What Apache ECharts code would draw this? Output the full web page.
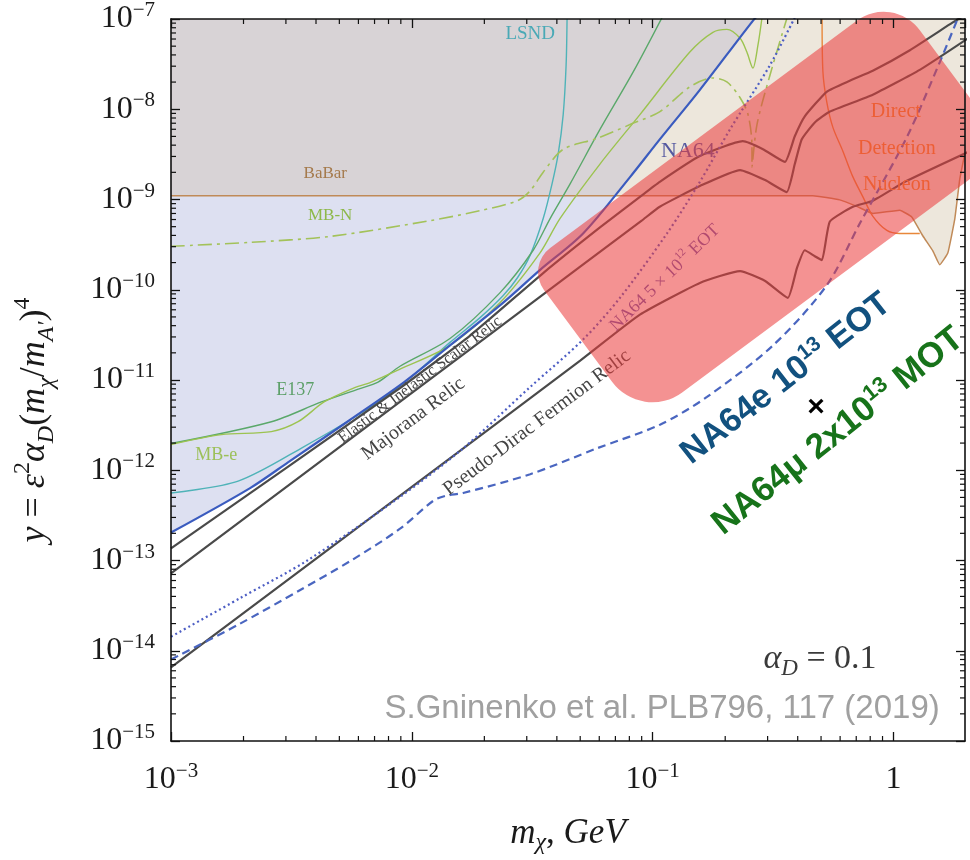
<!DOCTYPE html>
<html>
<head>
<meta charset="utf-8">
<script src="https://cdn.jsdelivr.net/npm/echarts@6/dist/echarts.min.js"></script>
<style>
html,body{margin:0;padding:0;background:#ffffff;}
#chart{width:970px;height:860px;}
</style>
</head>
<body>
<div id="chart"></div>
<script>
// ---------------- data (m_chi in GeV, y dimensionless) ----------------
const X_MIN = 1e-3, X_MAX = 1.98, Y_MIN = 1e-15, Y_MAX = 1e-7;
const X_DECADES = [-3, -2, -1, 0];
const Y_DECADES = [-15, -14, -13, -12, -11, -10, -9, -8];
const MINOR_MANTISSAS = [2, 3, 4, 5, 6, 7, 8, 9];

const NA64_LIMIT = [[1e-3,2.04e-13],[2.13e-3,6.34e-13],[3.07e-3,1.23e-12],[5.55e-3,3.63e-12],[9.29e-3,9.48e-12],
  [1.44e-2,2.42e-11],[2.39e-2,7.16e-11],[3.40e-2,1.65e-10],[5.14e-2,4.20e-10],[8.05e-2,1.77e-9],
  [0.107,4.63e-9],[0.157,1.64e-8],[0.261,9.6e-8],[0.279,1.15e-7]];

const BABAR_LIMIT = [[1e-3,1.1e-9],[0.462,1.1e-9],[0.598,9.9e-10],[0.704,8.4e-10],[0.821,7.0e-10],[1.062,7.6e-10],
  [1.19,6.4e-10],[1.324,3.94e-10],[1.456,2.7e-10],[1.556,1.89e-10],[1.68,2.55e-10],[1.796,6.1e-10],
  [1.884,1.69e-9],[1.976,3.2e-9]];

const DIRECT_DETECTION = [[0.505,1.0e-7],[0.509,2.6e-8],[0.528,1.21e-8],[0.560,6.3e-9],[0.616,3.43e-9],
  [0.678,1.78e-9],[0.746,1.07e-9],[0.821,6.5e-10],[0.938,4.54e-10],[1.062,4.2e-10],[1.285,4.2e-10]];

const LSND = [[1e-3,5.6e-13],[1.90e-3,7.57e-13],[3.57e-3,1.83e-12],[6.78e-3,5.05e-12],[9.93e-3,1.08e-11],
  [1.44e-2,2.61e-11],[1.92e-2,4.91e-11],[2.39e-2,8.57e-11],[2.74e-2,1.35e-10],[3.10e-2,2.42e-10],
  [3.51e-2,6.15e-10],[3.82e-2,1.49e-9],[4.05e-2,3.18e-9],[4.25e-2,8.73e-9],[4.37e-2,3.09e-8],[4.41e-2,1.0e-7]];

const E137 = [[1e-3,1.98e-12],[2.61e-3,3.45e-12],[4.21e-3,5.71e-12],[5.99e-3,7.94e-12],[7.24e-3,9.48e-12],
  [8.93e-3,1.42e-11],[1.44e-2,2.88e-11],[2.32e-2,9.23e-11],[3.19e-2,2.74e-10],[3.75e-2,6.14e-10],
  [4.54e-2,1.49e-9],[6.04e-2,5.97e-9],[8.30e-2,2.59e-8],[0.1104,1.09e-7]];

const MB_E = [[1e-3,1.93e-12],[1.62e-3,2.48e-12],[2.61e-3,2.68e-12],[3.37e-3,3.45e-12],[4.32e-3,5.71e-12],
  [5.60e-3,7.94e-12],[6.78e-3,9.48e-12],[8.93e-3,1.32e-11],[1.44e-2,2.42e-11],[2.32e-2,7.16e-11],
  [3.40e-2,2.54e-10],[4.12e-2,6.14e-10],[6.04e-2,2.47e-9],[8.85e-2,8.73e-9],[0.1426,4.30e-8],
  [0.1778,7.11e-8],[0.2032,7.67e-8],[0.2306,6.11e-8],[0.2460,4.30e-8],[0.2606,2.86e-8],[0.2735,5.13e-8],[0.2838,1.0e-7]];

const MB_N = [[1e-3,3.03e-10],[2.13e-3,3.35e-10],[4.58e-3,3.90e-10],[1.19e-2,5.83e-10],[1.92e-2,7.52e-10],
  [2.74e-2,9.68e-10],[3.10e-2,1.25e-9],[3.51e-2,2.01e-9],[4.25e-2,3.6e-9],[5.87e-2,4.75e-9],
  [8.05e-2,6.76e-9],[0.1072,9.42e-9],[0.1426,1.77e-8],[0.1778,2.22e-8],[0.2032,2.01e-8],[0.2306,1.34e-8],
  [0.2488,8.73e-9],[0.2582,4.07e-9],[0.2585,2.29e-9],[0.271,6.76e-9],[0.307,2.40e-8],[0.360,1.0e-7]];

const SCALAR_RELIC = [[1e-3,1.36e-13],[8.93e-3,8.15e-12],[0.01746,3.11e-11],[0.0351,1.53e-10],[0.0604,4.9e-10],
  [0.0885,1.07e-9],[0.107,1.57e-9],
  [0.157,3.03e-9],[0.2366,4.43e-9],[0.287,3.61e-9],[0.354,2.61e-9],[0.389,5.02e-9],[0.428,8.34e-9],
  [0.529,1.57e-8],[0.658,2.07e-8],[0.820,2.67e-8],[1.169,4.51e-8],[1.762,9.16e-8],[2.03,1.15e-7]];

const MAJORANA_RELIC = [[1e-3,7.2e-14],[0.01,7.2e-12],[0.05,1.8e-10],[0.09,5.83e-10],[0.107,8.32e-10],
  [0.157,1.41e-9],[0.2306,2.12e-9],[0.293,1.64e-9],[0.360,1.21e-9],[0.389,2.47e-9],[0.416,4.65e-9],
  [0.471,7.14e-9],[0.544,9.44e-9],[0.820,1.45e-8],[1.285,2.73e-8],[2.07,6.28e-8]];

const PSEUDO_DIRAC_RELIC = [[1e-3,6.55e-15],[0.01,6.55e-13],[0.05,1.64e-11],[0.0885,5.3e-11],[0.157,1.19e-10],
  [0.2306,1.61e-10],[0.293,1.25e-10],[0.364,8.13e-11],[0.397,1.74e-10],[0.428,2.74e-10],[0.471,2.35e-10],
  [0.504,2.13e-10],[0.544,5.7e-10],[0.678,8.3e-10],[0.820,9.7e-10],[1.135,1.61e-9],[2.07,3.43e-9]];

const NA64_5E12_EOT = [[1e-3,1.43e-14],[1.94e-3,3.84e-14],[3.68e-3,1.0e-13],[8.93e-3,5.06e-13],[1.633e-2,1.75e-12],
  [3.1e-2,8.36e-12],[5.14e-2,2.81e-11],[7.31e-2,8.13e-11],[0.1146,4.2e-10],[0.157,1.57e-9],
  [0.2094,5.98e-9],[0.307,3.09e-8],[0.389,1.04e-7]];

const NA64E_1E13_EOT = [[1e-3,8.0e-15],[1.905e-3,1.95e-14],[3.44e-3,4.71e-14],[5.6e-3,1.0e-13],[8.93e-3,2.25e-13],
  [1.225e-2,4.57e-13],[1.374e-2,5.19e-13],[1.633e-2,5.6e-13],[3.1e-2,9.04e-13],[5.87e-2,1.75e-12],
  [0.1072,3.2e-12],[0.168,6.49e-12],[0.316,2.42e-11],[0.529,1.13e-10],[0.724,5.42e-10],
  [1.135,4.89e-9],[1.556,3.33e-8],[1.832,9.6e-8]];

// highlighted projection region: three corners (top-left, bottom-left, top-right) in data space
const HIGHLIGHT_CORNERS = [[0.0298,1.84e-10],[0.092,3.54e-12],[0.993,1.9e-7]];

// ---------------- styles ----------------
const SERIF = "'Liberation Serif', 'DejaVu Serif', serif";
const SANS = "'Liberation Sans', Arial, Helvetica, sans-serif";
const LAVENDER = '#dde0f1', BEIGE = '#ede7dc', GREYMIX = '#d8d3d6';

function powLabel(v) {
  const l = Math.log10(v), e = Math.round(l);
  if (Math.abs(l - e) > 1e-6) return '';
  if (e === 0) return '{b|1}';
  return '{b|10}{s|' + (e < 0 ? '\u2212' + (-e) : e) + '}';
}
const TICK_RICH = {
  b: {fontFamily: SERIF, fontSize: 32, color: '#1a1a1a', lineHeight: 38},
  s: {fontFamily: SERIF, fontSize: 21, color: '#1a1a1a', verticalAlign: 'top'}
};

function overlapBoundary() {
  const level = BABAR_LIMIT[0][1];
  const pts = [[BABAR_LIMIT[0][0], level]];
  for (let i = 1; i < NA64_LIMIT.length; i++) {
    const [x0, y0] = NA64_LIMIT[i - 1], [x1, y1] = NA64_LIMIT[i];
    if (y0 < level && y1 >= level) {
      const t = (Math.log10(level) - Math.log10(y0)) / (Math.log10(y1) - Math.log10(y0));
      pts.push([Math.pow(10, Math.log10(x0) + t * (Math.log10(x1) - Math.log10(x0))), level]);
    }
    if (y1 >= level) pts.push([x1, y1]);
  }
  return pts;
}

function fillSeries(data, color) {
  return {type: 'line', data, symbol: 'none', silent: true, z: 1, animation: false,
    lineStyle: {width: 0, opacity: 0}, areaStyle: {color, opacity: 1, origin: 'end'}};
}
function curve(data, color, width, type, smooth, z) {
  return {type: 'line', data, symbol: 'none', silent: true, z: z || 3, animation: false,
    smooth: smooth == null ? 0.2 : smooth, lineStyle: {color, width, type: type || 'solid'}};
}

function minorTicks(axis) {
  const vals = [];
  (axis === 'x' ? X_DECADES : Y_DECADES).forEach(d => MINOR_MANTISSAS.forEach(k => {
    const v = k * Math.pow(10, d);
    if (axis === 'x' ? v < X_MAX : v < Y_MAX) vals.push(axis === 'x' ? [v, Y_MIN] : [X_MIN, v]);
  }));
  return {type: 'custom', silent: true, clip: false, z: 9, animation: false, data: vals,
    renderItem(params, api) {
      const st = {stroke: '#111', lineWidth: 1.2};
      if (axis === 'x') {
        const v = api.value(0);
        const a = api.coord([v, Y_MIN]), b = api.coord([v, Y_MAX]);
        return {type: 'group', children: [
          {type: 'line', shape: {x1: a[0], y1: a[1], x2: a[0], y2: a[1] - 5}, style: st},
          {type: 'line', shape: {x1: b[0], y1: b[1], x2: b[0], y2: b[1] + 5}, style: st}]};
      }
      const v = api.value(1);
      const a = api.coord([X_MIN, v]), b = api.coord([X_MAX, v]);
      return {type: 'group', children: [
        {type: 'line', shape: {x1: a[0], y1: a[1], x2: a[0] + 5, y2: a[1]}, style: st},
        {type: 'line', shape: {x1: b[0], y1: b[1], x2: b[0] - 5, y2: b[1]}, style: st}]};
    }};
}

const highlightBox = {
  type: 'custom', silent: true, clip: false, z: 6, animation: false, data: [HIGHLIGHT_CORNERS[0]],
  renderItem(params, api) {
    const a = api.coord(HIGHLIGHT_CORNERS[0]), b = api.coord(HIGHLIGHT_CORNERS[1]), c = api.coord(HIGHLIGHT_CORNERS[2]);
    const w = Math.hypot(c[0] - a[0], c[1] - a[1]), h = Math.hypot(b[0] - a[0], b[1] - a[1]);
    const ang = Math.atan2(-(c[1] - a[1]), c[0] - a[0]);
    return {type: 'rect', x: a[0], y: a[1], rotation: ang,
      shape: {x: 0, y: 0, width: w, height: h, r: [30, 45, 45, 50]},
      style: {fill: 'rgba(235,60,60,0.56)'}};
  }
};

function lab(pos, text, color, size, family, rotate, extra) {
  return {value: pos, label: Object.assign({show: true, position: 'inside', formatter: text, color,
    fontSize: size, fontFamily: family, rotate: rotate || 0}, extra || {})};
}
const SUPR = (f, s, c, w) => ({
  a: {fontFamily: f, fontSize: s, color: c, fontWeight: w || 'normal', lineHeight: s + 6},
  s: {fontFamily: f, fontSize: Math.round(s * 0.62), color: c, fontWeight: w || 'normal', verticalAlign: 'top'}
});
const HIDDEN_SYMBOL = {color: 'rgba(0,0,0,0)', opacity: 1};

const underLabels = {
  type: 'scatter', silent: true, z: 4, animation: false, symbolSize: 1, itemStyle: HIDDEN_SYMBOL,
  data: [
    lab([0.031, 6.76e-8], 'LSND', '#4aa9b6', 19, SERIF),
    lab([4.37e-3, 1.92e-9], 'BaBar', '#a57a4c', 17, SERIF),
    lab([4.58e-3, 6.6e-10], 'MB-N', '#8db84a', 17, SERIF),
    lab([0.140, 3.43e-9], 'NA64', '#5559a0', 22, SERIF),
    lab([3.28e-3, 7.74e-12], 'E137', '#5c9f68', 18, SERIF),
    lab([1.54e-3, 1.46e-12], 'MB-e', '#9cc05a', 18, SERIF),
    lab([1.022, 9.5e-9], 'Direct', '#f08a2c', 20, SERIF),
    lab([1.032, 3.63e-9], 'Detection', '#f08a2c', 20, SERIF),
    lab([1.032, 1.46e-9], 'Nucleon', '#f08a2c', 20, SERIF),
    lab([1.082e-2, 1.005e-11], 'Elastic & Inelastic Scalar Relic', '#444', 16, SERIF, 37),
    lab([1.014e-2, 3.72e-12], 'Majorana Relic', '#444', 20, SERIF, 37),
    lab([3.31e-2, 3.37e-12], 'Pseudo-Dirac Fermion Relic', '#444', 20, SERIF, 37),
    lab([0.1125, 1.35e-10], '{a|NA64 5 \u00d7 10}{s|12}{a| EOT}', '#6a5cb0', 18, SERIF, 44,
      {rich: SUPR(SERIF, 18, '#6a5cb0')}),
    lab([0.495, 8.0e-15], '{i|\u03b1}{d|D}{a| = 0.1}', '#3a3a3a', 34, SERIF, 0, {rich: {
      i: {fontFamily: SERIF, fontStyle: 'italic', fontSize: 34, color: '#3a3a3a', lineHeight: 42},
      d: {fontFamily: SERIF, fontStyle: 'italic', fontSize: 23, color: '#3a3a3a', verticalAlign: 'bottom'},
      a: {fontFamily: SERIF, fontSize: 34, color: '#3a3a3a', lineHeight: 42}}}),
    lab([0.1094, 2.26e-15], 'S.Gninenko et al. PLB796, 117 (2019)', '#a0a0a0', 33, SANS)
  ]
};

const overLabels = {
  type: 'scatter', silent: true, z: 12, animation: false, symbolSize: 1, itemStyle: HIDDEN_SYMBOL,
  data: [
    lab([0.358, 1.03e-11], '{a|NA64e 10}{s|13}{a| EOT}', '#12517f', 34, SANS, 38,
      {rich: SUPR(SANS, 34, '#12517f', 'bold')}),
    lab([0.589, 2.69e-12], '{a|NA64\u03bc 2x10}{s|13}{a| MOT}', '#17731a', 35, SANS, 38.6,
      {rich: SUPR(SANS, 35, '#17731a', 'bold')}),
    lab([0.477, 4.92e-12], '\u00d7', '#000', 30, SANS, 0, {fontWeight: 'bold'})
  ]
};

const axisLineStyle = {show: true, lineStyle: {color: '#111', width: 1.6}};
const axisTickStyle = {show: true, inside: true, length: 9, lineStyle: {color: '#111', width: 1.3}};

const option = {
  animation: false,
  backgroundColor: '#ffffff',
  grid: {left: 171, right: 5, top: 14, bottom: 118, containLabel: false},
  xAxis: [
    {type: 'log', logBase: 10, min: X_MIN, max: X_MAX, interval: 1, position: 'bottom', z: 10,
      axisLine: axisLineStyle, axisTick: axisTickStyle, splitLine: {show: false}, minorTick: {show: false},
      axisLabel: {formatter: powLabel, margin: 20, rich: TICK_RICH, showMaxLabel: false},
      name: '{i|m}{d|\u03c7}{a|, }{i|GeV}', nameLocation: 'middle', nameGap: 72,
      nameTextStyle: {fontFamily: SERIF, fontSize: 35, color: '#1a1a1a', rich: {
        i: {fontFamily: SERIF, fontStyle: 'italic', fontSize: 35, color: '#1a1a1a', lineHeight: 42},
        a: {fontFamily: SERIF, fontSize: 35, color: '#1a1a1a', lineHeight: 42},
        d: {fontFamily: SERIF, fontStyle: 'italic', fontSize: 24, color: '#1a1a1a', verticalAlign: 'bottom'}}}},
    {type: 'log', logBase: 10, min: X_MIN, max: X_MAX, interval: 1, position: 'top', z: 10,
      axisLine: axisLineStyle, axisTick: axisTickStyle, splitLine: {show: false}, axisLabel: {show: false}}
  ],
  yAxis: [
    {type: 'log', logBase: 10, min: Y_MIN, max: Y_MAX, interval: 1, position: 'left', z: 10,
      axisLine: axisLineStyle, axisTick: axisTickStyle, splitLine: {show: false},
      axisLabel: {formatter: powLabel, margin: 16, rich: TICK_RICH},
      name: '{i|y}{a| = }{i|\u03b5}{u|2}{i|\u03b1}{d|D}{a|(}{i|m}{d|\u03c7}{a|/}{i|m}{d|A\u2032}{a|)}{u|4}',
      nameLocation: 'middle', nameRotate: 90, nameGap: 112,
      nameTextStyle: {fontFamily: SERIF, fontSize: 36, color: '#1a1a1a', padding: [0, 80, 0, 0], rich: {
        i: {fontFamily: SERIF, fontStyle: 'italic', fontSize: 36, color: '#1a1a1a', lineHeight: 48},
        a: {fontFamily: SERIF, fontSize: 36, color: '#1a1a1a', lineHeight: 48},
        u: {fontFamily: SERIF, fontSize: 24, color: '#1a1a1a', verticalAlign: 'top'},
        d: {fontFamily: SERIF, fontStyle: 'italic', fontSize: 24, color: '#1a1a1a', verticalAlign: 'bottom'}}}},
    {type: 'log', logBase: 10, min: Y_MIN, max: Y_MAX, interval: 1, position: 'right', z: 10,
      axisLine: axisLineStyle, axisTick: axisTickStyle, splitLine: {show: false}, axisLabel: {show: false}}
  ],
  series: [
    fillSeries(NA64_LIMIT, LAVENDER),
    fillSeries(BABAR_LIMIT, BEIGE),
    fillSeries(overlapBoundary(), GREYMIX),
    curve(BABAR_LIMIT, '#c08a58', 1.5, 'solid', 0.1),
    curve(DIRECT_DETECTION, '#e8873a', 1.4, 'solid', 0.3),
    curve(LSND, '#4fb3b8', 1.4, 'solid', 0.3),
    curve(E137, '#5aa86a', 1.4, 'solid', 0.3),
    curve(MB_E, '#9cc350', 1.4, 'solid', 0.3),
    curve(MB_N, '#a3c25a', 1.6, [14, 5, 3, 5], 0.3),
    curve(NA64_LIMIT, '#3a5bbf', 2.2, 'solid', 0.3),
    curve(SCALAR_RELIC, '#4a4a4a', 2.2, 'solid', 0.15),
    curve(MAJORANA_RELIC, '#4a4a4a', 2.2, 'solid', 0.15),
    curve(PSEUDO_DIRAC_RELIC, '#4a4a4a', 2.2, 'solid', 0.15),
    curve(NA64_5E12_EOT, '#4d5ec4', 2.2, [2, 3], 0.3),
    curve(NA64E_1E13_EOT, '#4a66c0', 2.2, [8, 5], 0.3),
    underLabels,
    highlightBox,
    minorTicks('x'),
    minorTicks('y'),
    overLabels
  ]
};

const chart = echarts.init(document.getElementById('chart'), null, {renderer: 'canvas'});
chart.setOption(option);
</script>
</body>
</html>
